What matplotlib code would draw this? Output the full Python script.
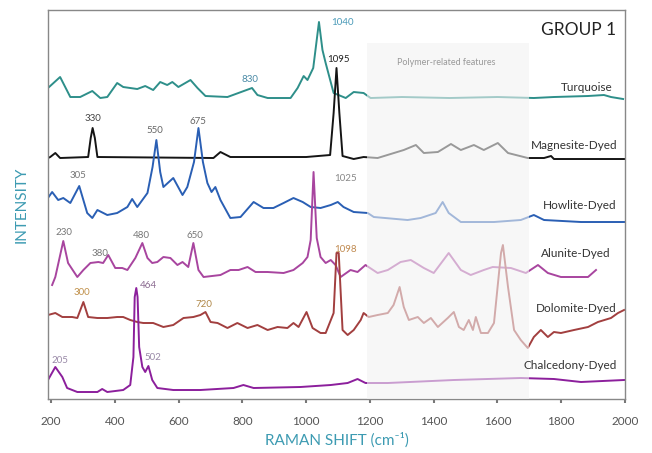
import matplotlib
matplotlib.use("Agg")
import matplotlib.pyplot as plt
from matplotlib.patches import Rectangle

plt.rcParams['font.family'] = ['Lato', 'DejaVu Sans']

# Raman shift (cm-1) and relative intensity
turq_x = [190, 228, 260, 291, 329, 354, 376, 407, 426, 470, 495, 520, 542, 564, 580, 599, 637, 659, 684,
          753, 830, 847, 879, 951, 973, 992, 1004, 1022, 1040, 1051, 1061, 1086, 1124, 1149, 1180, 1202,
          1300, 1450, 1600, 1714, 1777, 1884, 1934, 1956, 1994]
turq_y = [10, 21, 1, 1, 7, 0, 1, 15, 11, 9, 12, 8, 16, 13, 16, 11, 18, 10, 2,
          1, 10, 3, 0, 0, 10, 22, 18, 30, 76, 48, 35, 5, 0, 6, 5, 0,
          1, 0, 1, 0, 1, 2, 3, 1, -1]

magn_x = [190, 197, 213, 228, 316, 324, 330, 337, 345, 709, 731, 762, 1000, 1075, 1086, 1095, 1104, 1114,
          1149, 1180, 1224, 1306, 1344, 1369, 1413, 1454, 1485, 1526, 1557, 1601, 1633, 1695, 1746,
          1768, 1777, 1997]
magn_y = [0, 1, 5, 0, 1, 20, 30, 20, 1, 0, 6, 1, 1, 3, 45, 90, 45, 2,
          -1, 1, 0, 8, 13, 5, 6, 14, 8, 13, 8, 15, 5, 0, 0,
          2, -1, -1]

howl_x = [192, 203, 222, 238, 260, 288, 313, 329, 345, 376, 407, 439, 454, 470, 502, 518, 530, 542, 552,
          583, 612, 627, 648, 662, 676, 690, 703, 715, 731, 762, 794, 835, 866, 897, 929, 960, 989,
          1014, 1045, 1077, 1099, 1117, 1149, 1193, 1212, 1318, 1359, 1406, 1428, 1447, 1485, 1589,
          1673, 1714, 1746, 1862, 1997]
howl_y = [25, 30, 22, 24, 19, 36, 9, 4, 12, 7, 9, 15, 23, 15, 29, 55, 82, 50, 35,
          44, 27, 35, 60, 94, 60, 39, 30, 35, 22, 4, 5, 20, 14, 14, 19, 24, 20,
          15, 14, 17, 20, 15, 10, 9, 5, 2, 4, 9, 20, 9, 0, 0,
          2, 7, 2, 0, 0]

alun_x = [203, 213, 238, 253, 282, 301, 323, 348, 363, 379, 401, 423, 439, 464, 486, 502, 517, 533, 552,
          574, 596, 612, 630, 646, 662, 678, 731, 762, 788, 816, 841, 879, 929, 960, 989, 1004, 1014,
          1023, 1033, 1045, 1061, 1077, 1092, 1108, 1139, 1161, 1186, 1224, 1256, 1296, 1328, 1369,
          1400, 1447, 1485, 1516, 1557, 1585, 1642, 1689, 1727, 1758, 1799, 1884, 1909]
alun_y = [-7, 1, 37, 15, 1, 8, 15, 16, 15, 23, 10, 10, 8, 20, 35, 20, 15, 16, 21,
          20, 13, 16, 11, 35, 8, 1, 3, 8, 8, 11, 6, 6, 5, 8, 15, 21, 38,
          106, 40, 21, 15, 18, 13, 1, 8, 6, 13, 5, 8, 16, 18, 10,
          5, 25, 8, 3, 8, 11, 10, 5, 13, 5, 1, 1, 8]

dolo_x = [190, 213, 235, 266, 282, 301, 316, 345, 376, 407, 426, 448, 470, 489, 520, 552, 583, 615, 646,
          668, 684, 700, 722, 753, 784, 816, 847, 879, 910, 941, 960, 976, 1001, 1020, 1045, 1061,
          1086, 1095, 1102, 1114, 1130, 1149, 1171, 1180, 1196, 1224, 1256, 1274, 1293, 1306, 1322,
          1350, 1369, 1391, 1413, 1444, 1463, 1479, 1494, 1510, 1523, 1532, 1548, 1570, 1589, 1611,
          1617, 1633, 1652, 1673, 1695, 1714, 1736, 1758, 1777, 1799, 1840, 1884, 1915, 1956, 1978,
          1997]
dolo_y = [15, 17, 13, 13, 12, 28, 13, 12, 12, 13, 13, 10, 8, 7, 7, 3, 5, 12, 13,
          15, 18, 8, 7, 2, 7, 2, 5, 0, 3, 2, 7, 3, 18, 2, -3, -3,
          17, 77, 77, 0, -5, 0, 10, 17, 13, 15, 17, 25, 43, 23, 10,
          13, 7, 12, 3, 12, 18, 3, 0, 10, 0, 13, -3, -3, 7, 77,
          85, 43, 0, -10, -18, -7, 0, -7, -2, -3, 0, 3, 8, 12, 17,
          20]

chal_x = [190, 213, 235, 250, 282, 345, 360, 376, 426, 448, 458, 462, 467, 471, 476, 486, 495, 505, 517,
          533, 583, 668, 772, 803, 835, 982, 1077, 1130, 1161, 1186, 1256, 1463, 1673, 1777, 1862,
          1997]
chal_y = [12, 25, 15, 4, 0, 0, 3, 0, 2, 7, 35, 95, 104, 95, 45, 25, 20, 26, 12,
          4, 2, 2, 4, 7, 4, 5, 7, 9, 13, 9, 9, 12, 14, 13, 10,
          12]

names = ['Turquoise', 'Magnesite-Dyed', 'Howlite-Dyed', 'Alunite-Dyed', 'Dolomite-Dyed', 'Chalcedony-Dyed']
spectra = [(turq_x, turq_y), (magn_x, magn_y), (howl_x, howl_y),
           (alun_x, alun_y), (dolo_x, dolo_y), (chal_x, chal_y)]

# peak labels: (text, x, y, colour)
peaks = [('830', 822, 320, '#4a8aa6'), ('1040', 1114, 377, '#4a9ab8'), ('1095', 1102, 340, '#222222'),
         ('330', 332, 281, '#444444'), ('550', 524, 269, '#666666'), ('675', 659, 278, '#666666'),
         ('305', 285, 224, '#777777'), ('1025', 1124, 221, '#888888'),
         ('230', 241, 167, '#777777'), ('380', 354, 146, '#777777'), ('480', 483, 164, '#777777'),
         ('650', 652, 164, '#777777'), ('1098', 1124, 150, '#c08a50'),
         ('300', 297, 107, '#c0904a'), ('464', 505, 114, '#8a6a90'), ('720', 678, 95, '#b08848'),
         ('205', 228, 39, '#9a8aa8'), ('502', 520, 42, '#9a8aa8')]

offsets = [301, 241, 177, 121, 69, 7]
colors = ['#2e8f8a', '#151515', '#2a5fb4', '#a8459f', '#a23f3f', '#8c1f9c']
name_pos = [(1962, 312), (1978, 254), (1972, 194), (1956, 146), (1975, 91), (1975, 34)]

fig = plt.figure(figsize=(6.52, 4.53), dpi=100)
ax = fig.add_axes([0.0736, 0.1192, 0.885, 0.8587])

for (x, y), off, c in zip(spectra, offsets, colors):
    ax.plot(x, [v + off for v in y], color=c, lw=1.4, zorder=2)

# faded polymer region
ax.add_patch(Rectangle((1190, 0), 510, 356, facecolor='#f3f3f3', alpha=0.6,
                       edgecolor='none', zorder=3))
ax.text(1440, 337, 'Polymer-related features', fontsize=6.5, color='#999999',
        ha='center', va='center', zorder=4)

for t, x, y, c in peaks:
    ax.text(x, y, t, fontsize=7, color=c, ha='center', va='center', zorder=5)

for n, (x, y) in zip(names, name_pos):
    ax.text(x, y, n, fontsize=8.5, color='#333333', ha='right', va='center', zorder=5)

ax.text(1972, 369, 'GROUP 1', fontsize=12.5, color='#222222', ha='right', va='center')

ax.set_xlim(190, 2000)
ax.set_ylim(0, 389)
ax.set_xticks(range(200, 2001, 200))
ax.set_yticks([])
ax.tick_params(axis='x', length=3, width=1.5, color='#777777', labelcolor='#555555',
               labelsize=8.5, pad=9)
for s in ax.spines.values():
    s.set_color('#888888')
    s.set_linewidth(1)

ax.set_xlabel('RAMAN SHIFT (cm⁻¹)', fontsize=11, color='#3d9bb2', labelpad=4)
ax.set_ylabel('INTENSITY', fontsize=11, color='#3d9bb2', labelpad=14)

fig.savefig('out.png', dpi=100)
